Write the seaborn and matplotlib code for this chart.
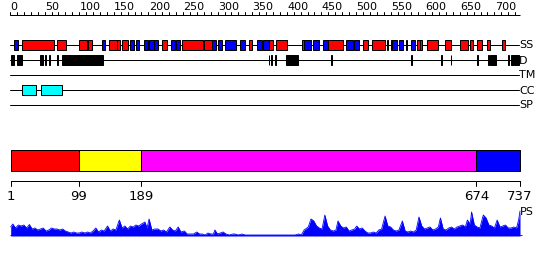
import numpy as np
import matplotlib
matplotlib.use("Agg")
import matplotlib.pyplot as plt
import seaborn as sns

sns.set_style("white")
plt.rcParams['font.family'] = ['DejaVu Sans']

SEQ_LEN = 737

# ---------------- data ----------------
ss_start = [6, 18, 68, 100, 113, 133, 143, 155, 162, 174, 182, 193, 201, 208, 219, 232, 240, 248, 281, 292,
            301, 311, 333, 346, 357, 366, 374, 384, 422, 425, 438, 452, 459, 486, 497, 510, 523, 545, 551, 552,
            562, 572, 579, 588, 592, 602, 628, 651, 665, 675, 690, 711]
ss_end = [12, 64, 81, 111, 119, 138, 155, 159, 171, 179, 186, 199, 208, 214, 227, 239, 246, 279, 292, 297,
          306, 326, 339, 350, 364, 374, 380, 401, 425, 435, 446, 459, 481, 495, 505, 518, 542, 546, 552, 559,
          568, 574, 585, 592, 596, 618, 638, 662, 669, 682, 694, 715]
ss_type = ['E', 'H', 'H', 'H', 'H', 'E', 'H', 'H', 'H', 'E', 'E', 'E', 'E', 'E', 'H', 'E', 'E', 'H', 'H', 'E',
           'E', 'E', 'E', 'H', 'E', 'E', 'H', 'H', 'H', 'E', 'E', 'E', 'H', 'E', 'E', 'H', 'H', 'H', 'H', 'E',
           'E', 'E', 'E', 'H', 'H', 'H', 'H', 'H', 'H', 'H', 'H', 'H']

dis_start = [1, 10, 43, 51, 57, 68, 75, 374, 377, 383, 399, 464, 580, 623, 637, 675, 691, 694, 720, 724]
dis_end = [6, 17, 47, 52, 58, 70, 134, 375, 378, 384, 416, 465, 581, 624, 638, 676, 692, 702, 721, 736]

cc_start = [18, 45]
cc_end = [38, 75]

dom_start = [1, 99, 189, 674]
dom_end = [99, 189, 674, 737]
dom_color = ['#ff0000', '#ffff00', '#ff00ff', '#0000ff']

bottom_ticks = [1, 99, 189, 674, 737]

track_names = ['SS', 'D', 'TM', 'CC', 'SP']

ps_pos = [1, 4, 8, 12, 16, 20, 24, 28, 32, 36, 40, 44, 48, 52, 56, 60, 64, 68, 72, 76,
          80, 84, 88, 92, 96, 100, 104, 108, 112, 116, 120, 124, 128, 132, 136, 141, 145, 149, 153, 158,
          162, 166, 170, 174, 178, 182, 186, 190, 195, 198, 201, 205, 209, 214, 218, 222, 226, 231, 235, 239,
          243, 247, 252, 256, 260, 265, 270, 274, 278, 282, 286, 290, 294, 296, 300, 304, 308, 312, 317, 322,
          325, 330, 335, 340, 346, 352, 358, 364, 370, 376, 382, 388, 394, 400, 406, 412, 417, 421, 425, 431,
          435, 439, 443, 447, 451, 455, 459, 463, 467, 471, 474, 478, 482, 486, 490, 494, 498, 501, 505, 509,
          513, 517, 521, 525, 529, 533, 537, 542, 546, 550, 554, 558, 562, 567, 571, 575, 579, 583, 587, 591,
          595, 599, 603, 607, 611, 615, 619, 622, 626, 630, 634, 638, 642, 646, 650, 654, 658, 661, 665, 667,
          671, 675, 679, 684, 688, 692, 696, 700, 704, 708, 712, 716, 720, 724, 728, 732, 735, 737]
ps_val = [9, 12, 8, 11, 10, 11, 8, 11.5, 7, 8, 6, 7, 8, 5, 6, 8, 7, 7, 6, 7,
          5, 4, 3, 4, 3, 3, 4, 3, 4, 3, 5, 8, 4, 6, 5, 10, 5, 7, 6, 16,
          8, 10, 7, 10, 9, 11, 10, 12, 14, 8, 17, 6, 7, 7, 5, 6, 4, 9, 6, 5,
          9, 4, 5, 2, 2, 2, 4, 2, 2, 1, 3, 2, 2, 6, 2, 3, 4, 2, 1, 2,
          2, 1, 2, 1, 1, 1, 1, 1, 1, 1, 1, 1, 1, 1, 1, 1, 2, 1, 6, 9,
          17, 15, 10, 8, 7, 21, 10, 6, 5, 6, 15, 10, 8, 9, 5, 6, 7, 10, 7, 8,
          5, 3, 3, 4, 3, 6, 7, 20, 10, 9, 6, 5, 6, 15, 5, 4, 5, 4, 6, 19,
          10, 7, 8, 9, 6, 7, 9, 18, 7, 6, 8, 9, 7, 9, 10, 11, 9, 16, 12, 24,
          11, 9, 8, 21, 18, 11, 10, 8, 16, 9, 10, 11, 8, 8, 9, 8, 16, 25]

# ---------------- layout ----------------
W, H = 550, 260
DPI = 100
PX_PER_RES = 510 / 737.0
X0 = 10.0


def px_to_pos(px):
    return (px - X0) / PX_PER_RES


fig = plt.figure(figsize=(W / DPI, H / DPI), dpi=DPI)
ax = fig.add_axes([0, 0, 1, 1])
ax.set_xlim(px_to_pos(0), px_to_pos(W))
ax.set_ylim(H, 0)
ax.axis('off')

lw_px = 72.0 / DPI  # one pixel in points

# top ruler
RULER_Y = 15
ax.plot([0, SEQ_LEN], [RULER_Y, RULER_Y], color='black', lw=lw_px, solid_capstyle='butt')
for t in range(0, SEQ_LEN, 10):
    ax.plot([t, t], [RULER_Y, RULER_Y - 3.2], color='black', lw=lw_px)
for t in range(0, SEQ_LEN, 50):
    ax.text(t + 0.5, 6.5, str(t), ha='left', va='center', fontsize=8, color='black')

# tracks
track_y = {'SS': 45, 'D': 60, 'TM': 75, 'CC': 90, 'SP': 105}
for name in track_names:
    y = track_y[name]
    ax.plot([0, 735], [y, y], color='black', lw=lw_px, zorder=1)
    ax.text(736, y + 0.5, name, ha='left', va='center', fontsize=8, color='black')

BOX_H = 10
ss_colors = ['#ff0000' if t == 'H' else '#0000ff' for t in ss_type]
ax.barh([track_y['SS']] * len(ss_start), np.array(ss_end) - np.array(ss_start),
        left=ss_start, height=BOX_H, color=ss_colors, edgecolor='black', linewidth=lw_px, zorder=2)
ax.barh([track_y['D']] * len(dis_start), np.array(dis_end) - np.array(dis_start),
        left=dis_start, height=BOX_H, color='black', edgecolor='black', linewidth=lw_px, zorder=2)
ax.barh([track_y['CC']] * len(cc_start), np.array(cc_end) - np.array(cc_start),
        left=cc_start, height=BOX_H, color='#00ffff', edgecolor='black', linewidth=lw_px, zorder=2)

# domain bar
ax.barh([160.3] * len(dom_start), np.array(dom_end) - np.array(dom_start), left=dom_start,
        height=20.5, color=dom_color, edgecolor='black', linewidth=lw_px, zorder=2)

# bottom ruler
BR_Y = 180.7
ax.plot([1, SEQ_LEN], [BR_Y, BR_Y], color='black', lw=lw_px)
for t in bottom_ticks:
    ax.plot([t, t], [BR_Y, BR_Y + 5.5], color='black', lw=lw_px)
    ax.text(t, 196, str(t), ha='center', va='center', fontsize=9.5, color='black')

ax.text(736.5, 212, 'PS', ha='left', va='center', fontsize=8, color='black')

# PS profile
BASE = 236.0
axp = fig.add_axes([0, (H - BASE) / H, 1, 32 / H])
axp.set_xlim(px_to_pos(0), px_to_pos(W))
axp.set_ylim(0, 32)
axp.axis('off')
axp.fill_between(ps_pos, 0, ps_val, color='#0000ff', linewidth=0)
sns.lineplot(x=ps_pos, y=ps_val, ax=axp, color='#0000ff', linewidth=0.6)
axp.plot([1, 740], [0.4, 0.4], color='#0000ff', lw=1.2)

fig.savefig('out.png', dpi=DPI, facecolor='white')
